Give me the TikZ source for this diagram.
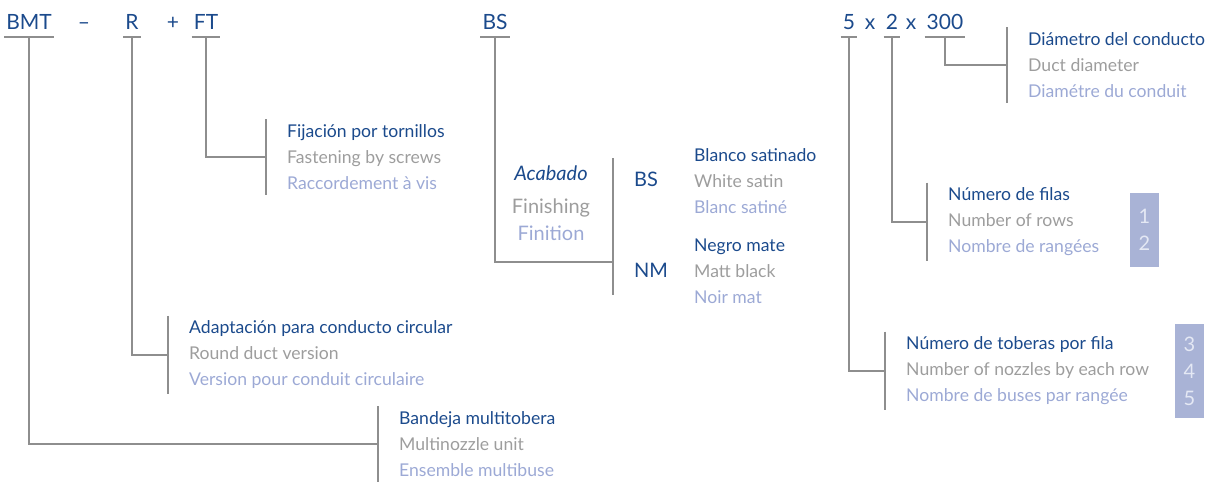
\documentclass[tikz,border=0pt]{standalone}
\usepackage{fontspec}
\setmainfont{Lato}
\definecolor{codeblue}{HTML}{1B4A8C}
\definecolor{engray}{HTML}{9D9D9D}
\definecolor{frblue}{HTML}{9CA9D5}
\definecolor{rulegray}{HTML}{8E8E8E}
\definecolor{boxblue}{HTML}{A9B3D6}
\definecolor{boxtext}{HTML}{E4E8F4}
% three language lines: spanish, english, french
\newcommand{\trio}[3]{{\color{codeblue}#1}\\{\color{engray}#2}\\{\color{frblue}#3}}
\tikzset{
  code/.style={text=codeblue, font=\fontsize{21}{21}\selectfont, anchor=base, inner sep=0pt},
  optcode/.style={text=codeblue, font=\fontsize{20}{20}\selectfont, anchor=base west, inner sep=0pt},
  finword/.style={font=\fontsize{20}{20}\selectfont, anchor=base, inner sep=0pt},
  legend/.style={anchor=west, align=left, inner xsep=21pt, inner ysep=5pt,
    font=\fontsize{17.6}{26}\selectfont},
  rule/.style={draw=rulegray, line width=1.4pt},
  numbox/.style={fill=boxblue, text=boxtext, align=center, inner sep=0pt,
    minimum width=29pt, font=\fontsize{20}{27}\selectfont}
}
\begin{document}
\begin{tikzpicture}[x=1pt, y=-1pt]
\useasboundingbox (0,0) rectangle (1214,484);
% Code line
\node[code] (bmt) at (29,30) {BMT};
\node[code] (dash) at (84,30) {--};
\node[code] (r) at (132,30) {R};
\node[code] (plus) at (173,30) {+};
\node[code] (ft) at (206,30) {FT};
\node[code] (bs) at (495,30) {BS};
\node[code] (five) at (849,30) {5};
\node[code] (xa) at (870,30) {x};
\node[code] (two) at (892,30) {2};
\node[code] (xb) at (911,30) {x};
\node[code] (dia) at (945,30) {300};
% Underlines
\foreach \c in {bmt,r,ft,bs,five,two,dia}
  \draw[rule] ([xshift=-2pt,yshift=-7pt]\c.base west) -- ([xshift=2pt,yshift=-7pt]\c.base east);
% Legends
\node[legend] (fix) at (266,157) {\trio{Fijación por tornillos}{Fastening by screws}{Raccordement à vis}};
\node[legend] (round) at (168,355) {\trio{Adaptación para conducto circular}{Round duct version}{Version pour conduit circulaire}};
\node[legend] (tray) at (378,444) {\trio{Bandeja multitobera}{Multinozzle unit}{Ensemble multibuse}};
\node[legend] (duct) at (1007,65) {\trio{Diámetro del conducto}{Duct diameter}{Diamétre du conduit}};
\node[legend] (rows) at (927,222) {\trio{Número de filas}{Number of rows}{Nombre de rangées}};
\node[legend] (nozz) at (885,371) {\trio{Número de toberas por fila}{Number of nozzles by each row}{Nombre de buses par rangée}};
% Brackets
\foreach \b in {fix,round,tray,duct,rows,nozz}
  \draw[rule] (\b.north west) -- (\b.south west);
% Connectors
\draw[rule] ([yshift=-7pt]ft.base) |- (fix.west);
\draw[rule] ([yshift=-7pt]r.base) |- (round.west);
\draw[rule] ([yshift=-7pt]bmt.base) |- (tray.west);
\draw[rule] ([yshift=-7pt]dia.base) |- (duct.west);
\draw[rule] ([yshift=-7pt]two.base) |- (rows.west);
\draw[rule] ([yshift=-7pt]five.base) |- (nozz.west);
% Finish options
\node[finword, text=codeblue, font=\fontsize{20}{20}\selectfont\itshape] (acab) at (551,180) {Acabado};
\node[finword, text=engray] (finen) at (551,213) {Finishing};
\node[finword, text=frblue] (finfr) at (551,240) {Finition};
\coordinate (finTop) at (613,158);
\coordinate (finBot) at (613,295);
\coordinate (finJoin) at (613,262);
\draw[rule] (finTop) -- (finBot);
\draw[rule] ([yshift=-7pt]bs.base) |- (finJoin);
\node[optcode] (optbs) at (634,186) {BS};
\node[optcode] (optnm) at (634,277) {NM};
\node[legend, inner xsep=0pt] (white) at (694,181) {\trio{Blanco satinado}{White satin}{Blanc satiné}};
\node[legend, inner xsep=0pt] (black) at (694,271) {\trio{Negro mate}{Matt black}{Noir mat}};
% Number boxes
\node[numbox, minimum height=74pt] (rowsbox) at (1144.5,230) {1\\2};
\node[numbox, minimum height=94pt] (nozzbox) at (1189.5,371) {3\\4\\5};
\end{tikzpicture}
\end{document}
